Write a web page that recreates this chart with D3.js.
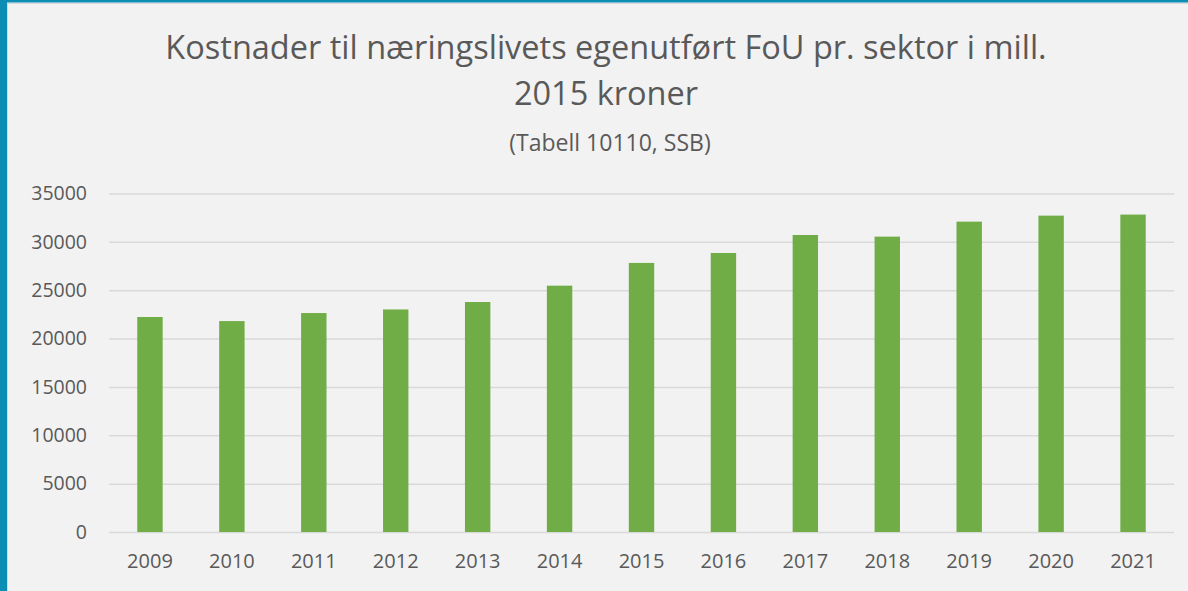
<!DOCTYPE html>
<html><head><meta charset="utf-8">
<script src="https://cdn.jsdelivr.net/npm/d3@7"></script>
<style>
html,body{margin:0;padding:0;background:#f2f2f2;}
svg{display:block;font-family:"Open Sans",sans-serif;}
</style></head>
<body>
<svg id="c" width="1188" height="591"></svg>
<script>
const years = ["2009","2010","2011","2012","2013","2014","2015","2016","2017","2018","2019","2020","2021"];
const values = [22230, 21810, 22640, 23010, 23780, 25470, 27820, 28850, 30710, 30540, 32090, 32710, 32820];
const yTicks = [0, 5000, 10000, 15000, 20000, 25000, 30000, 35000];
const titleLines = ["Kostnader til næringslivets egenutført FoU pr. sektor i mill.", "2015 kroner"];
const subtitle = "(Tabell 10110, SSB)";

const svg = d3.select("#c");
const W = 1188, H = 591;
const textColor = "#595959";

svg.append("rect").attr("width", W).attr("height", H).attr("fill", "#f2f2f2");
// frame
svg.append("rect").attr("x", 0).attr("y", 0).attr("width", 7).attr("height", H).attr("fill", "#0b8db4");
svg.append("rect").attr("x", 0).attr("y", 0).attr("width", W).attr("height", 2.5).attr("fill", "#0b8db4");
svg.append("line").attr("x1", 7.5).attr("x2", 7.5).attr("y1", 3).attr("y2", H).attr("stroke", "#d9d9d9").attr("stroke-width", 1);
svg.append("line").attr("x1", 7).attr("x2", W).attr("y1", 3.5).attr("y2", 3.5).attr("stroke", "#d9d9d9").attr("stroke-width", 1);

const x = d3.scaleBand().domain(years).range([109, 1174]).paddingInner(0.69).paddingOuter(0.345);
const y = d3.scaleLinear().domain([0, 35000]).range([532, 193.5]);

// gridlines
const yAxis = d3.axisLeft(y).tickValues(yTicks).tickSize(-(1174 - 109)).tickFormat(d3.format("d")).tickPadding(22);
const gy = svg.append("g").attr("transform", "translate(109,0)").call(yAxis);
gy.select(".domain").remove();
gy.selectAll(".tick line").attr("stroke", "#d9d9d9").attr("stroke-width", 1.5);
gy.selectAll(".tick text").attr("fill", textColor).attr("font-size", 19.5).attr("font-family", "Open Sans");

// bars
svg.append("g").selectAll("rect").data(values).join("rect")
  .attr("x", (d, i) => x(years[i]))
  .attr("width", x.bandwidth())
  .attr("y", d => y(d))
  .attr("height", d => y(0) - y(d))
  .attr("fill", "#70ad47");

// x axis labels
const xAxis = d3.axisBottom(x).tickSize(0).tickPadding(22);
const gx = svg.append("g").attr("transform", "translate(0,532)").call(xAxis);
gx.select(".domain").remove();
gx.selectAll(".tick text").attr("fill", textColor).attr("font-size", 20).attr("font-family", "Open Sans");

// titles
svg.append("text").attr("x", 606).attr("y", 59).attr("text-anchor", "middle")
  .attr("font-size", 32.5).attr("fill", textColor).text(titleLines[0]);
svg.append("text").attr("x", 606).attr("y", 105).attr("text-anchor", "middle")
  .attr("font-size", 32.5).attr("fill", textColor).text(titleLines[1]);
svg.append("text").attr("x", 610).attr("y", 151).attr("text-anchor", "middle")
  .attr("font-size", 23).attr("fill", textColor).text(subtitle);
</script>
</body></html>
